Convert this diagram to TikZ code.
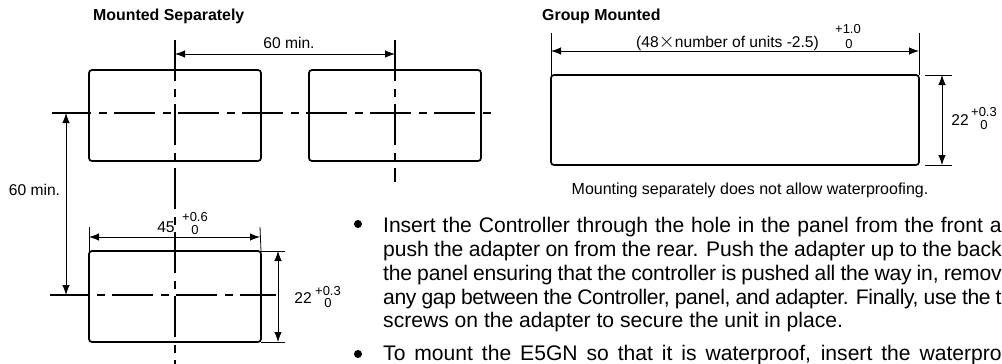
\documentclass[tikz,border=0pt]{standalone}
\usepackage{fontspec}
\setmainfont{Liberation Sans}
\usetikzlibrary{arrows.meta}
\tikzset{
  panelbox/.style={draw, line width=1.7pt, rounded corners=3pt, inner sep=0pt, outer sep=0pt},
  centerline/.style={line width=1.2pt, dash pattern=on 41pt off 8pt on 8pt off 7pt},
  dimline/.style={line width=0.8pt, {Latex[length=10pt,width=7.5pt]}-{Latex[length=10pt,width=7.5pt]}},
  extline/.style={line width=0.8pt},
  dimtext/.style={inner sep=0pt, font=\fontsize{15.6}{18}\selectfont},
  toltext/.style={inner sep=0pt, font=\fontsize{13}{15}\selectfont},
  headtext/.style={inner sep=0pt, anchor=west, font=\fontsize{15.9}{18}\selectfont\bfseries},
  bodytext/.style={inner sep=0pt, anchor=base west, font=\fontsize{21.1}{24}\selectfont},
  bulletdot/.style={circle, fill, inner sep=0pt, minimum size=8pt}
}
\newcommand{\fitline}[2]{\makebox[618.5pt][s]{\addfontfeature{LetterSpace=#1}#2}}
\begin{document}
\begin{tikzpicture}[x=1pt, y=-1pt]
    \useasboundingbox (0, 0) rectangle (1002, 364);

    % Nodes
    \node[headtext] at (93, 16.5) (headsep) {Mounted Separately};
    \node[headtext] at (542, 16.5) (headgroup) {Group Mounted};

    \node[panelbox, minimum width=172pt, minimum height=91pt] at (175, 115.5) (boxa) {};
    \node[panelbox, minimum width=172pt, minimum height=91pt] at (395, 115.5) (boxb) {};
    \node[panelbox, minimum width=172pt, minimum height=91pt] at (175, 296.5) (boxc) {};
    \node[panelbox, minimum width=368pt, minimum height=90pt] at (735, 120) (boxd) {};

    \coordinate (atop) at (175, 40);
    \coordinate (abot) at (175, 364);
    \coordinate (btop) at (395, 40);
    \coordinate (bbot) at (395, 182);
    \coordinate (rowl) at (52, 113);
    \coordinate (rowr) at (493, 113);
    \coordinate (lowl) at (50, 295);
    \coordinate (lowr) at (276, 295);

    \draw[centerline] (atop) -- (abot);
    \draw[centerline] (btop) -- (bbot);
    \draw[centerline, dash phase=2pt] (rowl) -- (rowr);
    \draw[centerline, dash phase=2pt] (lowl) -- (lowr);

    % 60 min.
    \coordinate (ha) at (175, 54);
    \coordinate (hb) at (395, 54);
    \coordinate (va) at (66, 113);
    \coordinate (vb) at (66, 295);
    \draw[dimline] (ha) -- (hb);
    \draw[dimline] (va) -- (vb);
    \node[dimtext] at (289, 43) (hmin) {60 min.};
    \node[dimtext] at (34.5, 190) (vmin) {60 min.};

    % 45
    \coordinate (ca) at (89, 227);
    \coordinate (cb) at (260, 227);
    \coordinate (cc) at (89, 237);
    \coordinate (cd) at (260, 237);
    \draw[extline] (ca) -- (boxc.north west);
    \draw[extline] (cb) -- (boxc.north east);
    \draw[dimline] (cc) -- (cd);
    \node[dimtext] at (166, 227) (cw) {45};
    \node[toltext] at (195, 217) (cwp) {+0.6};
    \node[toltext] at (195, 230) (cwz) {0};

    % 22
    \coordinate (ce) at (285, 251);
    \coordinate (cf) at (285, 342);
    \coordinate (cg) at (278, 251);
    \coordinate (ch) at (278, 342);
    \draw[extline] (boxc.north east) -- (ce);
    \draw[extline] (boxc.south east) -- (cf);
    \draw[dimline] (cg) -- (ch);
    \node[dimtext] at (303, 298) (cht) {22};
    \node[toltext] at (328, 291) (chp) {+0.3};
    \node[toltext] at (328, 303) (chz) {0};

    % Group
    \coordinate (da) at (551, 33);
    \coordinate (db) at (919, 33);
    \coordinate (dc) at (551, 51);
    \coordinate (dd) at (919, 51);
    \draw[extline] (da) -- (boxd.north west);
    \draw[extline] (db) -- (boxd.north east);
    \draw[dimline] (dc) -- (dd);
    \node[dimtext] at (727.5, 43) (dw) {(48\scalebox{1.45}{$\times$}number of units -2.5)};
    \node[toltext] at (848, 29) (dwp) {+1.0};
    \node[toltext] at (849, 44) (dwz) {0};

    \coordinate (de) at (925, 75);
    \coordinate (df) at (952, 75);
    \coordinate (dg) at (925, 165);
    \coordinate (dh) at (952, 165);
    \coordinate (di) at (942, 75);
    \coordinate (dj) at (942, 165);
    \draw[extline] (de) -- (df);
    \draw[extline] (dg) -- (dh);
    \draw[dimline] (di) -- (dj);
    \node[dimtext] at (960, 120) (dhh) {22};
    \node[toltext] at (984, 112) (dhp) {+0.3};
    \node[toltext] at (984, 125) (dhz) {0};

    \node[dimtext, font=\fontsize{16}{18}\selectfont] at (750, 190.5) (note) {Mounting separately does not allow waterproofing.};

    % Text
    \node[bulletdot] at (358, 224) (dota) {};
    \node[bulletdot] at (358, 354) (dotb) {};
    \node[bodytext] at (383, 232) (la) {\fitline{-0.2}{Insert the Controller through the hole in the panel from the front a}};
    \node[bodytext] at (383, 256.5) (lb) {\fitline{-0.2}{push the adapter on from the rear. Push the adapter up to the back}};
    \node[bodytext] at (383, 280.5) (lc) {\fitline{-1}{the panel ensuring that the controller is pushed all the way in, remov}};
    \node[bodytext] at (383, 304) (ld) {\fitline{-1.8}{any gap between the Controller, panel, and adapter. Finally, use the t}};
    \node[bodytext] at (383, 327) (le) {screws on the adapter to secure the unit in place.};
    \node[bodytext] at (383, 360.5) (lf) {\fitline{0}{To mount the E5GN so that it is waterproof, insert the waterpro}};
\end{tikzpicture}
\end{document}
